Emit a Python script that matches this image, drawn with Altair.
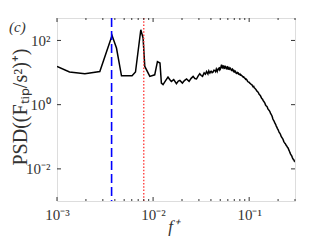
import altair as alt
import pandas as pd

# PSD curve (f+, PSD)
freq = [0.00100, 0.00135, 0.00195, 0.00279, 0.00374, 0.00416, 0.00469, 0.00604, 0.00656,
        0.00745, 0.00787, 0.00820, 0.00925, 0.0104, 0.0111, 0.0118, 0.0122, 0.0127,
        0.0135, 0.0143, 0.0149, 0.0155, 0.0164, 0.0175, 0.0183, 0.0190, 0.0202, 0.0212,
        0.0223, 0.0237, 0.0249, 0.0261, 0.0272, 0.0283, 0.0295, 0.0306, 0.0317, 0.0327,
        0.0340, 0.0350,
        0.0360, 0.0366, 0.0372, 0.0376, 0.0380, 0.0385, 0.0390, 0.0398, 0.0405, 0.0412,
        0.0420, 0.0430, 0.0440, 0.0447, 0.0455, 0.0460, 0.0465, 0.0470, 0.0475, 0.0482,
        0.0490, 0.0495, 0.0500, 0.0508, 0.0516, 0.0523, 0.0530, 0.0537, 0.0545, 0.0551,
        0.0558, 0.0565, 0.0572, 0.0580, 0.0590, 0.0597, 0.0604, 0.0612, 0.0620, 0.0630,
        0.0640, 0.0650, 0.0660, 0.0670, 0.0681, 0.0690, 0.0700, 0.0710, 0.0720, 0.0732,
        0.0745, 0.0756, 0.0768, 0.0779, 0.0790, 0.0802, 0.0815, 0.0828, 0.0840, 0.0853,
        0.0866, 0.0878, 0.0890, 0.0905, 0.0920, 0.0935, 0.0950, 0.0963, 0.0977, 0.0996,
        0.1016, 0.1033, 0.1050, 0.1065, 0.1080, 0.1098, 0.1115, 0.1130, 0.1146, 0.1163,
        0.1180, 0.1197, 0.1215, 0.1232, 0.1250, 0.1270, 0.1292, 0.1310, 0.1330, 0.1352,
        0.1375, 0.1395, 0.1415, 0.1436, 0.1457, 0.1478, 0.1500, 0.1522, 0.1545, 0.1567,
        0.1590, 0.1615, 0.1643, 0.1670, 0.1700, 0.1720, 0.1740, 0.1760, 0.1778, 0.1805,
        0.1830, 0.1860, 0.1890, 0.1915, 0.1940, 0.1970, 0.2004, 0.2030, 0.2060, 0.2090,
        0.2120, 0.2155, 0.2190, 0.2225, 0.2260, 0.2295, 0.2330, 0.2365, 0.2400, 0.2435,
        0.2470, 0.2510, 0.2547, 0.2585, 0.2620, 0.2660, 0.2700, 0.2740, 0.2780, 0.2815,
        0.2850, 0.2885, 0.2921, 0.2960, 0.3000]
psd = [15.5, 10.4, 9.2, 10.8, 143, 58, 7.9, 7.9, 10.4,
       215, 119, 15.5, 7.6, 8.5, 22, 19.8, 4.7, 4.2,
       5.6, 7.2, 6.1, 5.3, 6.0, 4.5, 5.4, 5.7, 4.7, 5.6,
       6.3, 5.3, 6.6, 7.6, 6.5, 6.3, 7.9, 9.2, 8.1, 7.6,
       9.8, 8.9,
       10.8, 9.7, 9.0, 10.3, 11.2, 10.1, 9.6, 10.9, 11.0, 9.9,
       10.2, 11.9, 11.6, 10.7, 12.8, 11.8, 10.9, 12.4, 12.2, 13.6,
       14.0, 12.0, 12.5, 14.8, 17.5, 14.2, 13.9, 16.0, 15.8, 13.5,
       13.8, 15.6, 15.2, 13.0, 12.9, 14.9, 14.6, 12.7, 12.6, 14.0,
       13.4, 11.9, 11.5, 12.8, 12.1, 10.6, 10.4, 11.4, 10.9, 9.6,
       9.3, 10.1, 9.9, 8.8, 8.6, 9.0, 8.3, 8.4, 7.9, 7.6,
       7.2, 7.3, 6.9, 6.6, 6.1, 6.2, 5.8, 5.3, 5.1, 5.0,
       4.7, 4.5, 4.3, 4.2, 3.9, 3.6, 3.7, 3.35, 3.25, 3.1,
       2.95, 2.7, 2.6, 2.5, 2.35, 2.1, 2.0, 1.9, 1.72, 1.55,
       1.5, 1.36, 1.28, 1.2, 1.12, 0.99, 0.93, 0.89, 0.84, 0.74,
       0.70, 0.66, 0.61, 0.53, 0.49, 0.46, 0.42, 0.37, 0.34, 0.32,
       0.29, 0.26, 0.24, 0.215, 0.20, 0.18, 0.165, 0.148, 0.135, 0.128,
       0.118, 0.102, 0.095, 0.089, 0.081, 0.071, 0.066, 0.062, 0.058, 0.053,
       0.051, 0.046, 0.0445, 0.039, 0.036, 0.032, 0.029, 0.027, 0.025, 0.0225,
       0.021, 0.0195, 0.0192, 0.0172, 0.0166]

blue_f = [0.0037]
red_f = [0.0080]

x_major = [0.001, 0.01, 0.1]
x_minor = [0.002, 0.003, 0.004, 0.005, 0.006, 0.007, 0.008, 0.009,
           0.02, 0.03, 0.04, 0.05, 0.06, 0.07, 0.08, 0.09, 0.2, 0.3]
y_major = [0.01, 1, 100]
x_labels = ["10⁻³", "10⁻²", "10⁻¹"]
y_labels = ["10⁻²", "10⁰", "10²"]

W, H = 238, 183
FONT = "Liberation Serif"
TXT = "#333333"

n = min(len(freq), len(psd))
df = pd.DataFrame({"f": freq[:n], "psd": psd[:n]})
xs = alt.Scale(type="log", domain=[0.001, 0.3], nice=False)
ys = alt.Scale(type="log", domain=[0.001, 500], nice=False)

xlab = "{" + ",".join(f"'{v}':'{l}'" for v, l in zip(["0.001", "0.01", "0.1"], x_labels)) + "}"
ylab = "{" + ",".join(f"'{v}':'{l}'" for v, l in zip(["0.01", "1", "100"], y_labels)) + "}"

line = alt.Chart(df).mark_line(color="black", strokeWidth=1.5, clip=True).encode(
    x=alt.X("f:Q", scale=xs, title="f⁺",
            axis=alt.Axis(values=x_major, ticks=False, domain=False, grid=False,
                          labelExpr=f"{xlab}[''+datum.value]", labelFlush=False,
                          labelFont=FONT, labelFontSize=15, labelColor=TXT, labelPadding=6,
                          titleFont=FONT, titleFontSize=17, titleFontStyle="italic",
                          titleFontWeight="normal", titleColor=TXT,
                          titleX=116, titleY=17, titleBaseline="top")),
    y=alt.Y("psd:Q", scale=ys, title="PSD((Fₜᵢₚ/s²)⁺)",
            axis=alt.Axis(values=y_major, ticks=False, domain=False, grid=False,
                          labelExpr=f"{ylab}[''+datum.value]",
                          labelFont=FONT, labelFontSize=15, labelColor=TXT, labelPadding=7,
                          titleFont=FONT, titleFontSize=20, titleFontWeight="normal",
                          titleColor=TXT, titleX=-27, titleY=H / 2 - 3,
                          titleBaseline="bottom", titleAngle=270)),
)

blue = alt.Chart(pd.DataFrame({"f": blue_f})).mark_rule(
    color="#0000ff", strokeWidth=1.6, strokeDash=[9, 4]).encode(x=alt.X("f:Q", scale=xs))
red = alt.Chart(pd.DataFrame({"f": red_f})).mark_rule(
    color="#ff3333", strokeWidth=1.3, strokeDash=[1.5, 1.8]).encode(x=alt.X("f:Q", scale=xs))

def xticks(vals, ln):
    d = pd.DataFrame({"f": vals})
    b = alt.Chart(d).mark_rule(color=TXT, strokeWidth=1).encode(
        x=alt.X("f:Q", scale=xs), y=alt.value(H), y2=alt.value(H - ln))
    t = alt.Chart(d).mark_rule(color=TXT, strokeWidth=1).encode(
        x=alt.X("f:Q", scale=xs), y=alt.value(0), y2=alt.value(ln))
    return [b, t]

yd = pd.DataFrame({"p": y_major})
yl = alt.Chart(yd).mark_rule(color=TXT, strokeWidth=1).encode(
    y=alt.Y("p:Q", scale=ys), x=alt.value(0), x2=alt.value(4))
yr = alt.Chart(yd).mark_rule(color=TXT, strokeWidth=1).encode(
    y=alt.Y("p:Q", scale=ys), x=alt.value(W - 4), x2=alt.value(W))

label = alt.Chart(pd.DataFrame({"t": ["(c)"]})).mark_text(
    font=FONT, fontSize=15, fontStyle="italic", color=TXT, align="left", baseline="middle"
).encode(text="t:N", x=alt.value(-48), y=alt.value(9))

chart = alt.layer(
    line, blue, red, *xticks(x_major, 4), *xticks(x_minor, 2), yl, yr, label
).properties(
    width=W, height=H,
    autosize=alt.AutoSizeParams(type="none"),
    padding={"left": 49, "top": 10, "right": 24, "bottom": 44},
).configure_view(stroke="#333333", strokeWidth=1).configure(background="white")

chart.save("out.html", embed_options={"renderer": "svg", "actions": False})
